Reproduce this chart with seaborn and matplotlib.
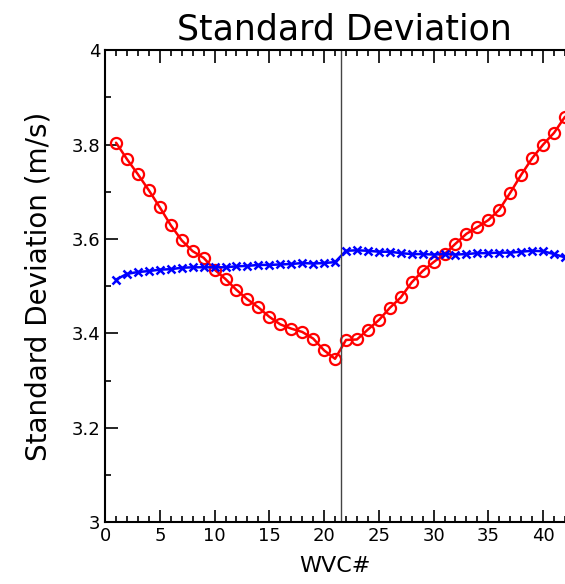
import numpy as np
import pandas as pd
import seaborn as sns
import matplotlib.pyplot as plt
from matplotlib.ticker import MultipleLocator

# WVC index
wvc = list(range(1, 43))

# red curve (circles)
std_red = [3.804, 3.769, 3.737, 3.703, 3.667, 3.629, 3.597, 3.574, 3.560, 3.535,
           3.515, 3.492, 3.472, 3.455, 3.435, 3.419, 3.410, 3.403, 3.389, 3.364,
           3.346, 3.386, 3.387, 3.408, 3.428, 3.454, 3.476, 3.508, 3.532, 3.551,
           3.568, 3.590, 3.611, 3.625, 3.640, 3.662, 3.698, 3.736, 3.771, 3.800,
           3.825, 3.859]

# blue curve (crosses)
std_blue = [3.514, 3.526, 3.530, 3.532, 3.535, 3.536, 3.539, 3.540, 3.540, 3.540,
            3.540, 3.542, 3.543, 3.545, 3.545, 3.546, 3.547, 3.549, 3.548, 3.549,
            3.551, 3.575, 3.576, 3.575, 3.573, 3.573, 3.570, 3.568, 3.568, 3.567,
            3.568, 3.567, 3.568, 3.570, 3.570, 3.571, 3.571, 3.573, 3.575, 3.574,
            3.568, 3.561]

df = pd.DataFrame({"wvc": wvc, "red": std_red, "blue": std_blue})

sns.set_style("ticks")
plt.rcParams["font.family"] = ["DejaVu Sans"]
plt.rcParams["text.color"] = "black"
plt.rcParams["axes.labelcolor"] = "black"
plt.rcParams["xtick.color"] = "black"
plt.rcParams["ytick.color"] = "black"

fig = plt.figure(figsize=(5.65, 5.84), dpi=100)
ax = fig.add_axes([0.186, 0.106, 0.814, 0.808])

sns.lineplot(data=df, x="wvc", y="red", ax=ax, color="red", lw=1.8,
             marker="o", markersize=8, markerfacecolor="none",
             markeredgecolor="red", markeredgewidth=1.6)
sns.lineplot(data=df, x="wvc", y="blue", ax=ax, color="blue", lw=1.8,
             marker="x", markersize=6, markeredgecolor="blue",
             markeredgewidth=1.8)

ax.axvline(21.5, color="#444444", lw=1)

ax.set_xlim(0, 42)
ax.set_ylim(3, 4)
ax.xaxis.set_major_locator(MultipleLocator(5))
ax.xaxis.set_minor_locator(MultipleLocator(1))
ax.yaxis.set_major_locator(MultipleLocator(0.2))
ax.yaxis.set_minor_locator(MultipleLocator(0.1))
ax.set_yticks([3, 3.2, 3.4, 3.6, 3.8, 4])
ax.set_yticklabels(["3", "3.2", "3.4", "3.6", "3.8", "4"])
ax.tick_params(which="both", direction="in", top=True, right=False,
               labelsize=13, width=1.2, color="black", labelcolor="black")
ax.tick_params(which="major", length=9)
ax.tick_params(which="minor", length=4)
for s in ["left", "bottom", "top"]:
    ax.spines[s].set_linewidth(1.5)
    ax.spines[s].set_color("black")
ax.spines["right"].set_visible(False)

ax.set_xlabel("WVC#", fontsize=16, labelpad=8)
ax.set_ylabel("Standard Deviation (m/s)", fontsize=20, labelpad=14)
ax.set_title("Standard Deviation", fontsize=25, pad=8, x=0.52)

fig.savefig("out.png", dpi=100)
